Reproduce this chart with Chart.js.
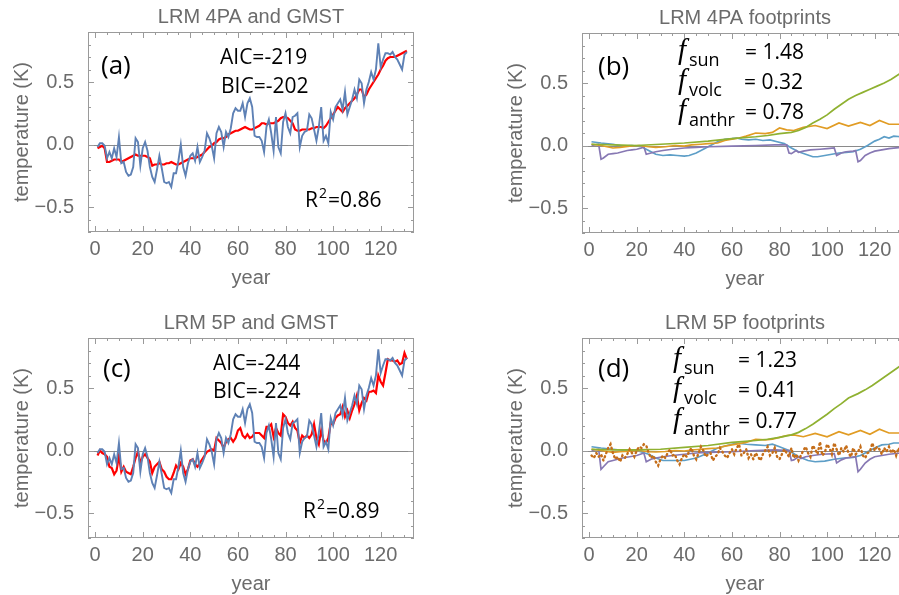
<!DOCTYPE html>
<html>
<head>
<meta charset="utf-8">
<script src="https://cdn.jsdelivr.net/npm/chart.js@4.4.0/dist/chart.umd.min.js"></script>
<style>
html, body { margin: 0; padding: 0; overflow: hidden; background: #fff; }
body { position: relative; width: 899px; height: 595px; }
canvas { position: absolute; }
</style>
</head>
<body>
<canvas id="panelA" width="450" height="300" style="left:0px;top:0px"></canvas>
<canvas id="panelB" width="450" height="300" style="left:494px;top:1px"></canvas>
<canvas id="panelC" width="450" height="300" style="left:0px;top:306px"></canvas>
<canvas id="panelD" width="450" height="300" style="left:494px;top:306px"></canvas>
<script>
// years 1..131
const years = [];
for (let i = 1; i <= 131; i++) years.push(i);

// observed GMST anomaly (K)
const gmst = [
  -0.02, 0.01, 0.01, -0.01, -0.11, -0.06, -0.11, -0.03, -0.10, 0.06,
  -0.15, -0.14, -0.22, -0.25, -0.24, -0.18, 0.05, 0.02, -0.17, -0.03,
  0.02, -0.05, -0.18, -0.26, -0.30, -0.20, -0.09, -0.19, -0.30, -0.31,
  -0.30, -0.34, -0.23, -0.23, -0.13, 0.00, -0.18, -0.25, -0.15, -0.09,
  -0.07, -0.13, -0.02, -0.14, -0.10, -0.05, 0.09, 0.05, -0.01, -0.11,
  0.09, 0.14, 0.10, -0.02, 0.10, 0.06, 0.13, 0.25, 0.29, 0.27,
  0.27, 0.33, 0.22, 0.33, 0.37, 0.30, 0.07, 0.06, 0.06, 0.03,
  -0.06, 0.14, 0.20, 0.09, -0.05, 0.22, -0.02, -0.07, 0.18, 0.25,
  0.14, 0.09, 0.22, 0.23, 0.25, -0.02, 0.07, 0.10, 0.11, 0.24,
  0.21, 0.12, 0.03, 0.14, 0.30, 0.03, 0.07, 0.01, 0.26, 0.20,
  0.30, 0.33, 0.36, 0.28, 0.42, 0.24, 0.30, 0.36, 0.44, 0.37,
  0.52, 0.49, 0.33, 0.44, 0.50, 0.58, 0.52, 0.60, 0.81, 0.62,
  0.68, 0.73, 0.73, 0.72, 0.74, 0.70, 0.68, 0.64, 0.60, 0.72, 0.74
];

// LRM 4PA fit
const fit4PA = [
  -0.03, -0.02, -0.01, -0.03, -0.14, -0.14, -0.13, -0.12, -0.12, -0.12,
  -0.14, -0.13, -0.12, -0.11, -0.10, -0.09, -0.08, -0.09, -0.09, -0.09,
  -0.09, -0.10, -0.11, -0.17, -0.16, -0.16, -0.15, -0.16, -0.16, -0.15,
  -0.15, -0.14, -0.15, -0.16, -0.16, -0.15, -0.14, -0.13, -0.12, -0.11,
  -0.11, -0.11, -0.10, -0.09, -0.08, -0.06, -0.04, -0.02, -0.01, 0.01,
  0.02, 0.04, 0.05, 0.05, 0.06, 0.08, 0.09, 0.10, 0.11, 0.11,
  0.12, 0.13, 0.14, 0.13, 0.12, 0.12, 0.13, 0.14, 0.15, 0.17,
  0.17, 0.16, 0.17, 0.17, 0.17, 0.18, 0.19, 0.21, 0.22, 0.22,
  0.21, 0.19, 0.17, 0.12, 0.11, 0.11, 0.12, 0.12, 0.12, 0.12,
  0.13, 0.13, 0.14, 0.14, 0.14, 0.13, 0.15, 0.18, 0.21, 0.24,
  0.27, 0.30, 0.28, 0.26, 0.29, 0.31, 0.33, 0.35, 0.37, 0.40,
  0.44, 0.44, 0.38, 0.40, 0.44, 0.47, 0.50, 0.53, 0.56, 0.60,
  0.63, 0.67, 0.69, 0.70, 0.70, 0.70, 0.71, 0.72, 0.73, 0.74, 0.75
];

// LRM 5P fit
const fit5P = [
  -0.04, 0.00, -0.02, -0.03, -0.05, -0.13, -0.14, -0.19, -0.16, -0.04,
  -0.17, -0.13, -0.17, -0.18, -0.19, -0.13, -0.06, -0.01, -0.10, -0.05,
  -0.03, -0.06, -0.09, -0.18, -0.13, -0.11, -0.09, -0.15, -0.17, -0.21,
  -0.23, -0.23, -0.18, -0.12, -0.15, -0.10, -0.13, -0.19, -0.15, -0.08,
  -0.07, -0.11, -0.13, -0.10, -0.07, -0.04, -0.01, 0.00, 0.01, 0.00,
  0.10, 0.08, 0.06, 0.02, 0.07, 0.09, 0.10, 0.07, 0.10, 0.16,
  0.18, 0.12, 0.10, 0.13, 0.10, 0.11, 0.14, 0.14, 0.14, 0.12,
  0.10, 0.19, 0.19, 0.21, 0.11, 0.18, 0.14, 0.12, 0.29, 0.27,
  0.22, 0.20, 0.23, 0.18, 0.16, 0.06, 0.12, 0.10, 0.12, 0.10,
  0.13, 0.21, 0.10, 0.05, 0.16, 0.08, 0.06, 0.10, 0.22, 0.21,
  0.26, 0.28, 0.29, 0.35, 0.27, 0.32, 0.26, 0.32, 0.37, 0.44,
  0.32, 0.38, 0.42, 0.40, 0.47, 0.47, 0.48, 0.46, 0.60, 0.55,
  0.52, 0.62, 0.73, 0.72, 0.72, 0.71, 0.72, 0.69, 0.70, 0.78, 0.73
];

// footprints, LRM 4PA
const anthroYrsB = [1, 10, 20, 30, 40, 50, 60, 70, 75, 80, 85, 88, 91, 94, 97, 100, 103, 106, 109, 112, 115, 118, 121, 124, 127, 131];
const anthroB = [0.01, 0.005, 0.0, 0.01, 0.02, 0.035, 0.055, 0.07, 0.08, 0.095, 0.105, 0.12, 0.145, 0.18, 0.21, 0.245, 0.29, 0.33, 0.37, 0.40, 0.425, 0.45, 0.475, 0.50, 0.53, 0.58];
const solarYrsB = [1, 5, 10, 13, 17, 21, 25, 28, 32, 36, 40, 43, 47, 50, 54, 57, 60, 63, 66, 70, 74, 77, 80, 83, 86, 90, 95, 100, 105, 109, 114, 118, 122, 126, 131];
const solarB = [0.01, 0.0, -0.02, -0.015, -0.005, 0.0, -0.01, -0.015, -0.01, 0.0, -0.005, 0.005, 0.01, 0.015, 0.02, 0.04, 0.05, 0.06, 0.075, 0.10, 0.095, 0.105, 0.14, 0.125, 0.12, 0.145, 0.16, 0.135, 0.18, 0.155, 0.185, 0.16, 0.20, 0.17, 0.17];
const oceanYrsB = [1, 5, 10, 14, 18, 22, 25, 28, 31, 34, 37, 40, 42, 45, 48, 51, 54, 57, 60, 62, 64, 67, 70, 73, 76, 79, 82, 85, 88, 91, 94, 96, 99, 102, 105, 108, 111, 114, 117, 120, 122, 124, 126, 128, 131];
const oceanB = [0.03, 0.02, 0.01, -0.005, 0.0, -0.01, -0.04, -0.07, -0.08, -0.075, -0.08, -0.085, -0.08, -0.06, -0.03, 0.0, 0.03, 0.05, 0.055, 0.06, 0.05, 0.045, 0.05, 0.04, 0.045, 0.03, 0.015, -0.02, -0.05, -0.07, -0.09, -0.09, -0.08, -0.07, -0.06, -0.055, -0.05, -0.03, 0.0, 0.035, 0.05, 0.07, 0.06, 0.075, 0.07];
const volcYrsB = [1, 4, 5, 6, 8, 10, 12, 14, 16, 18, 20, 22, 23, 24, 26, 28, 31, 35, 40, 45, 50, 60, 70, 78, 83, 84, 85, 87, 88, 90, 93, 97, 100, 103, 104, 106, 108, 111, 112, 113, 114, 116, 118, 120, 123, 126, 131];
const volcB = [0.0, 0.01, -0.11, -0.10, -0.07, -0.065, -0.06, -0.05, -0.04, -0.035, -0.03, -0.02, -0.01, -0.07, -0.06, -0.05, -0.04, -0.03, -0.02, -0.015, -0.01, -0.005, 0.0, 0.005, 0.005, -0.06, -0.065, -0.04, -0.055, -0.045, -0.035, -0.03, -0.025, -0.02, -0.08, -0.06, -0.05, -0.045, -0.04, -0.13, -0.12, -0.08, -0.06, -0.045, -0.035, -0.025, -0.015];

// footprints, LRM 5P
const anthroYrsD = [1, 10, 20, 30, 40, 50, 60, 70, 75, 80, 85, 88, 91, 94, 97, 100, 103, 106, 109, 113, 116, 119, 122, 125, 128, 131];
const anthroD = [0.01, 0.005, 0.005, 0.01, 0.025, 0.04, 0.065, 0.08, 0.09, 0.105, 0.125, 0.145, 0.175, 0.21, 0.25, 0.29, 0.335, 0.375, 0.42, 0.455, 0.485, 0.52, 0.56, 0.60, 0.64, 0.68];
const solarYrsD = [1, 5, 10, 13, 17, 21, 25, 28, 32, 36, 40, 43, 47, 50, 54, 57, 60, 63, 66, 70, 74, 77, 80, 83, 86, 90, 95, 100, 105, 109, 114, 118, 122, 126, 131];
const solarD = [0.01, 0.0, -0.015, -0.01, -0.005, 0.0, -0.01, -0.012, -0.008, 0.0, -0.004, 0.004, 0.01, 0.015, 0.02, 0.035, 0.045, 0.055, 0.065, 0.09, 0.085, 0.09, 0.105, 0.12, 0.125, 0.11, 0.137, 0.11, 0.15, 0.125, 0.16, 0.13, 0.17, 0.14, 0.14];
const oceanYrsD = [1, 5, 10, 15, 20, 25, 28, 31, 35, 40, 45, 50, 54, 58, 62, 66, 70, 74, 77, 80, 84, 88, 92, 95, 99, 103, 107, 111, 114, 117, 120, 123, 126, 128, 131];
const oceanD = [0.03, 0.02, 0.01, 0.0, 0.0, -0.03, -0.06, -0.08, -0.08, -0.08, -0.06, -0.02, 0.02, 0.04, 0.06, 0.05, 0.045, 0.04, 0.05, 0.03, 0.0, -0.05, -0.08, -0.09, -0.085, -0.07, -0.06, -0.055, -0.04, -0.01, 0.02, 0.045, 0.05, 0.06, 0.06];
const volcYrsD = [1, 4, 5, 6, 8, 10, 12, 14, 17, 20, 23, 24, 26, 28, 31, 35, 40, 45, 50, 60, 70, 78, 84, 85, 86, 88, 89, 91, 94, 98, 103, 104, 106, 108, 112, 113, 114, 116, 118, 120, 123, 126, 131];
const volcD = [0.0, 0.01, -0.15, -0.13, -0.09, -0.08, -0.07, -0.06, -0.05, -0.04, -0.02, -0.09, -0.07, -0.06, -0.05, -0.04, -0.03, -0.02, -0.015, -0.01, 0.0, 0.005, 0.0, -0.08, -0.075, -0.05, -0.065, -0.05, -0.04, -0.03, -0.025, -0.10, -0.075, -0.06, -0.05, -0.17, -0.15, -0.10, -0.07, -0.05, -0.04, -0.03, -0.02];
const ensoD = [
  -0.04, -0.06, -0.02, -0.05, -0.03, -0.08, -0.03, 0.02, 0.05, -0.02,
  -0.07, -0.05, -0.09, -0.04, -0.06, -0.03, 0.01, -0.02, -0.05, 0.00,
  0.03, 0.02, 0.05, 0.04, -0.02, -0.06, -0.04, -0.09, -0.12, -0.07,
  -0.04, -0.06, -0.02, 0.01, -0.04, -0.03, -0.08, -0.11, -0.06, -0.03,
  -0.05, -0.01, 0.02, -0.04, -0.07, -0.02, 0.03, 0.00, -0.05, -0.03,
  -0.02, -0.08, -0.05, -0.03, 0.02, -0.01, -0.04, -0.06, -0.02, 0.01,
  -0.03, 0.02, 0.05, -0.04, -0.02, 0.01, -0.06, -0.03, -0.07, -0.02,
  -0.05, -0.08, -0.03, 0.00, 0.03, -0.04, -0.02, 0.02, -0.05, -0.07,
  -0.03, 0.01, -0.02, -0.05, 0.02, -0.06, -0.03, -0.08, -0.04, 0.00,
  0.03, -0.02, -0.05, 0.04, 0.01, -0.03, 0.07, -0.04, -0.02, 0.05,
  0.02, -0.03, 0.06, 0.01, -0.04, 0.02, -0.01, 0.04, -0.02, -0.05,
  0.02, -0.03, -0.01, 0.03, -0.04, -0.06, -0.02, -0.01, 0.06, 0.00,
  0.03, 0.01, -0.03, 0.02, -0.01, 0.03, -0.02, 0.01, -0.04, 0.02, -0.01
];

const xTicks = [0, 20, 40, 60, 80, 100, 120];
const yTicks = [-0.5, 0, 0.5];

const grey = '#6b6b6b';
const sans = '"Liberation Sans", Arial, sans-serif';
const noteFont = '"Open Sans", sans-serif';
const C = { gmst: '#5E81B5', fit: '#ff0000', anthro: '#8FB131', solar: '#E19C24', ocean: '#5D9EC7', volc: '#8778B3', enso: '#C56E1A' };

function pts(xs, ys) { return xs.map((x, i) => ({ x: x, y: ys[i] })); }

function line(data, color, width, dash) {
  return { data: data, borderColor: color, borderWidth: width || 1.7, borderDash: dash || [],
           borderCapStyle: dash ? 'round' : 'butt', pointRadius: 0, tension: 0, fill: false };
}

// frame with inward ticks on all sides, zero line, text notes
const framePlugin = {
  id: 'frame',
  beforeDatasetsDraw(chart) {
    const { ctx, chartArea: a, scales: { y } } = chart;
    const y0 = Math.round(y.getPixelForValue(0)) + 0.5;
    ctx.save();
    ctx.strokeStyle = '#8a8a8a';
    ctx.lineWidth = 1.2;
    ctx.beginPath(); ctx.moveTo(a.left, y0); ctx.lineTo(a.right, y0); ctx.stroke();
    ctx.restore();
  },
  afterDraw(chart, args, opts) {
    const { ctx, chartArea: a, scales: { x, y } } = chart;
    ctx.save();
    ctx.strokeStyle = '#9a9a9a';
    ctx.lineWidth = 1;
    ctx.strokeRect(a.left + 0.5, a.top + 0.5, a.right - a.left - 1, a.bottom - a.top - 1);
    ctx.beginPath();
    for (let v = 0; v <= 130; v += 5) {
      const px = Math.round(x.getPixelForValue(v)) + 0.5;
      const len = v % 20 === 0 ? 6 : 3;
      ctx.moveTo(px, a.bottom); ctx.lineTo(px, a.bottom - len);
      ctx.moveTo(px, a.top); ctx.lineTo(px, a.top + len);
    }
    for (let k = -7; k <= 9; k++) {
      const py = Math.round(y.getPixelForValue(k / 10)) + 0.5;
      const len = k % 5 === 0 ? 6 : 3;
      ctx.moveTo(a.left, py); ctx.lineTo(a.left + len, py);
      ctx.moveTo(a.right, py); ctx.lineTo(a.right - len, py);
    }
    ctx.stroke();
    ctx.fillStyle = '#000';
    ctx.textBaseline = 'alphabetic';
    (opts.notes || []).forEach(n => {
      ctx.font = n.font;
      ctx.fillText(n.text, n.x, n.y);
    });
    ctx.restore();
  }
};
Chart.register(framePlugin);

function makeChart(id, title, datasets, notes) {
  return new Chart(document.getElementById(id), {
    type: 'line',
    data: { datasets: datasets },
    options: {
      responsive: false,
      animation: false,
      layout: { padding: { left: 6, right: 36, top: 0, bottom: 0 } },
      plugins: {
        legend: { display: false },
        tooltip: { enabled: false },
        title: { display: true, text: title, color: grey, fullSize: false,
                 font: { family: sans, size: 20, weight: 'normal' }, padding: { top: 5, bottom: 3 } },
        frame: { notes: notes }
      },
      scales: {
        x: {
          type: 'linear', min: -3, max: 134,
          grid: { display: false }, border: { display: false },
          afterBuildTicks: s => { s.ticks = xTicks.map(v => ({ value: v })); },
          afterFit: s => { s.height = 68; },
          ticks: { color: grey, font: { family: sans, size: 20 }, padding: -3, autoSkip: false, maxRotation: 0 },
          title: { display: true, text: 'year', color: grey, font: { family: sans, size: 20 }, padding: { top: 0, bottom: 10 } }
        },
        y: {
          min: -0.7, max: 0.9,
          grid: { display: false }, border: { display: false },
          afterBuildTicks: s => { s.ticks = yTicks.map(v => ({ value: v })); },
          afterFit: s => { s.width = 82; },
          ticks: { color: grey, font: { family: sans, size: 20 }, padding: 6,
                   callback: v => v.toFixed(1).replace('-', '\u2212') },
          title: { display: true, text: 'temperature (K)', color: grey, font: { family: sans, size: 20 }, padding: { top: 4, bottom: 0 } }
        }
      }
    }
  });
}

const big = '26px ' + noteFont;
const mid = '21px ' + noteFont;
const sub = '18px ' + noteFont;
const sup = '14px ' + noteFont;
const fItal = 'italic 29px "Liberation Serif", serif';

makeChart('panelA', 'LRM 4PA and GMST', [
  line(pts(years, gmst), C.gmst, 1.9),
  line(pts(years, fit4PA), C.fit, 2.2)
], [
  { text: '(a)', x: 101, y: 74, font: big },
  { text: 'AIC=-219', x: 220, y: 64, font: mid },
  { text: 'BIC=-202', x: 221, y: 93, font: mid },
  { text: 'R', x: 305, y: 207, font: mid },
  { text: '2', x: 319, y: 198, font: sup },
  { text: '=0.86', x: 328, y: 207, font: mid }
]);

makeChart('panelB', 'LRM 4PA footprints', [
  line(pts(anthroYrsB, anthroB), C.anthro),
  line(pts(solarYrsB, solarB), C.solar),
  line(pts(volcYrsB, volcB), C.volc),
  line(pts(oceanYrsB, oceanB), C.ocean)
], [
  { text: '(b)', x: 104, y: 74, font: big },
  { text: 'f', x: 184, y: 58, font: fItal },
  { text: 'sun', x: 195, y: 65, font: sub },
  { text: '= 1.48', x: 251, y: 58, font: mid },
  { text: 'f', x: 184, y: 88, font: fItal },
  { text: 'volc', x: 195, y: 95, font: sub },
  { text: '= 0.32', x: 250, y: 88, font: mid },
  { text: 'f', x: 184, y: 118, font: fItal },
  { text: 'anthr', x: 195, y: 125, font: sub },
  { text: '= 0.78', x: 251, y: 118, font: mid }
]);

makeChart('panelC', 'LRM 5P and GMST', [
  line(pts(years, gmst), C.gmst, 1.9),
  line(pts(years, fit5P), C.fit, 2.2)
], [
  { text: '(c)', x: 103, y: 71, font: big },
  { text: 'AIC=-244', x: 213, y: 64, font: mid },
  { text: 'BIC=-224', x: 213, y: 92, font: mid },
  { text: 'R', x: 303, y: 212, font: mid },
  { text: '2', x: 317, y: 203, font: sup },
  { text: '=0.89', x: 326, y: 212, font: mid }
]);

makeChart('panelD', 'LRM 5P footprints', [
  line(pts(years, ensoD), C.enso, 2.4, [1, 3.5]),
  line(pts(anthroYrsD, anthroD), C.anthro),
  line(pts(solarYrsD, solarD), C.solar),
  line(pts(volcYrsD, volcD), C.volc),
  line(pts(oceanYrsD, oceanD), C.ocean)
], [
  { text: '(d)', x: 104, y: 71, font: big },
  { text: 'f', x: 179, y: 61, font: fItal },
  { text: 'sun', x: 190, y: 68, font: sub },
  { text: '= 1.23', x: 244, y: 61, font: mid },
  { text: 'f', x: 179, y: 91, font: fItal },
  { text: 'volc', x: 190, y: 98, font: sub },
  { text: '= 0.41', x: 244, y: 91, font: mid },
  { text: 'f', x: 179, y: 122, font: fItal },
  { text: 'anthr', x: 190, y: 129, font: sub },
  { text: '= 0.77', x: 244, y: 122, font: mid }
]);
</script>
</body>
</html>
